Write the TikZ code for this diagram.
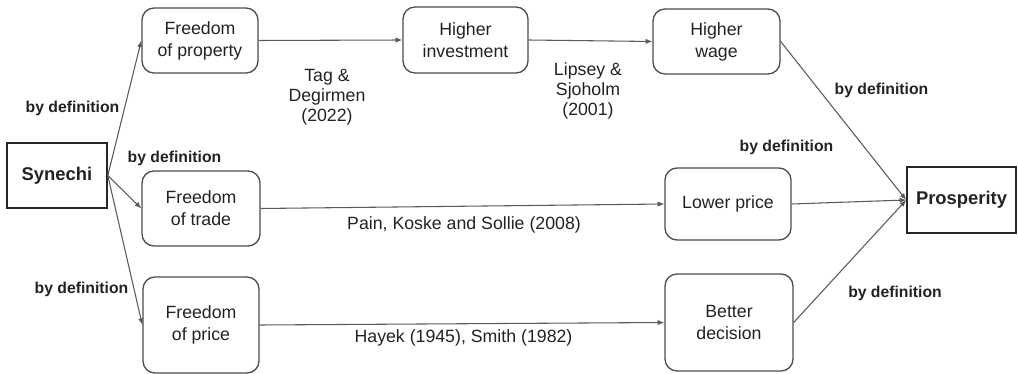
\documentclass[tikz,border=0pt]{standalone}
\usepackage{fontspec}
\setmainfont{Liberation Sans}
\usetikzlibrary{arrows.meta}
\definecolor{ln}{HTML}{5A5A5A}
\definecolor{tx}{HTML}{222222}
\begin{document}
\begin{tikzpicture}[x=0.75pt,y=-0.75pt,
  box/.style={draw=ln!85!black,line width=1pt,rounded corners=9pt,align=center,text=tx,
    font=\fontsize{13.3}{16.5}\selectfont,inner sep=0pt},
  endbox/.style={draw=black!85,line width=1.2pt,text=tx,font=\fontsize{13.8}{16}\selectfont\bfseries,inner sep=0pt},
  lab/.style={text=tx,font=\fontsize{11.8}{14}\selectfont\bfseries,inner sep=0pt},
  cite/.style={text=tx,align=center,font=\fontsize{13.3}{15}\selectfont,inner sep=0pt},
  arr/.style={draw=ln,line width=0.8pt,-{Latex[length=5pt,width=4pt]}}]
\useasboundingbox (0,0) rectangle (1018,374);
% boxes
\node[endbox,minimum width=100*0.75pt,minimum height=65*0.75pt] (syn) at (57,175.5) {Synechi};
\node[endbox,minimum width=109*0.75pt,minimum height=66*0.75pt] (pros) at (961.5,200) {Prosperity};
\node[box,minimum width=116*0.75pt,minimum height=65*0.75pt] (prop) at (200,40.5) {Freedom\\of property};
\node[box,minimum width=125*0.75pt,minimum height=66*0.75pt] (inv) at (465.5,40) {Higher\\investment};
\node[box,minimum width=127*0.75pt,minimum height=65*0.75pt] (wage) at (716.5,41.5) {Higher\\wage};
\node[box,minimum width=118*0.75pt,minimum height=75*0.75pt] (trade) at (201,208.5) {Freedom\\of trade};
\node[box,minimum width=126*0.75pt,minimum height=72*0.75pt] (low) at (728,204) {Lower price};
\node[box,minimum width=116*0.75pt,minimum height=96*0.75pt] (fpr) at (201,325) {Freedom\\of price};
\node[box,minimum width=128*0.75pt,minimum height=97*0.75pt] (bet) at (729,322.5) {Better\\decision};
% connectors
\draw[arr] (syn.east) -- (prop.west);
\draw[arr] (syn.east) -- (trade.west);
\draw[arr] (syn.east) -- (fpr.west);
\draw[arr] (prop.east) -- (inv.west);
\draw[arr] (inv.east) -- (wage.west);
\draw[arr] (trade.east) -- (low.west);
\draw[arr] (fpr.east) -- (bet.west);
\draw[arr] (wage.east) -- (pros.west);
\draw[arr] (low.east) -- (pros.west);
\draw[arr] (bet.east) -- (pros.west);
% labels
\node[cite] (c1) at (327,97) {Tag \&\\Degirmen\\(2022)};
\node[cite] (c2) at (588,91) {Lipsey \&\\Sjoholm\\(2001)};
\node[cite] (c3) at (464,225) {Pain, Koske and Sollie (2008)};
\node[cite] (c4) at (463.5,338) {Hayek (1945), Smith (1982)};
\node[lab] (d1) at (72.5,108) {by definition};
\node[lab] (d2) at (174.5,158) {by definition};
\node[lab] (d3) at (81.5,289) {by definition};
\node[lab] (d4) at (881.5,90) {by definition};
\node[lab] (d5) at (786.5,147) {by definition};
\node[lab] (d6) at (895,293) {by definition};
\end{tikzpicture}
\end{document}
